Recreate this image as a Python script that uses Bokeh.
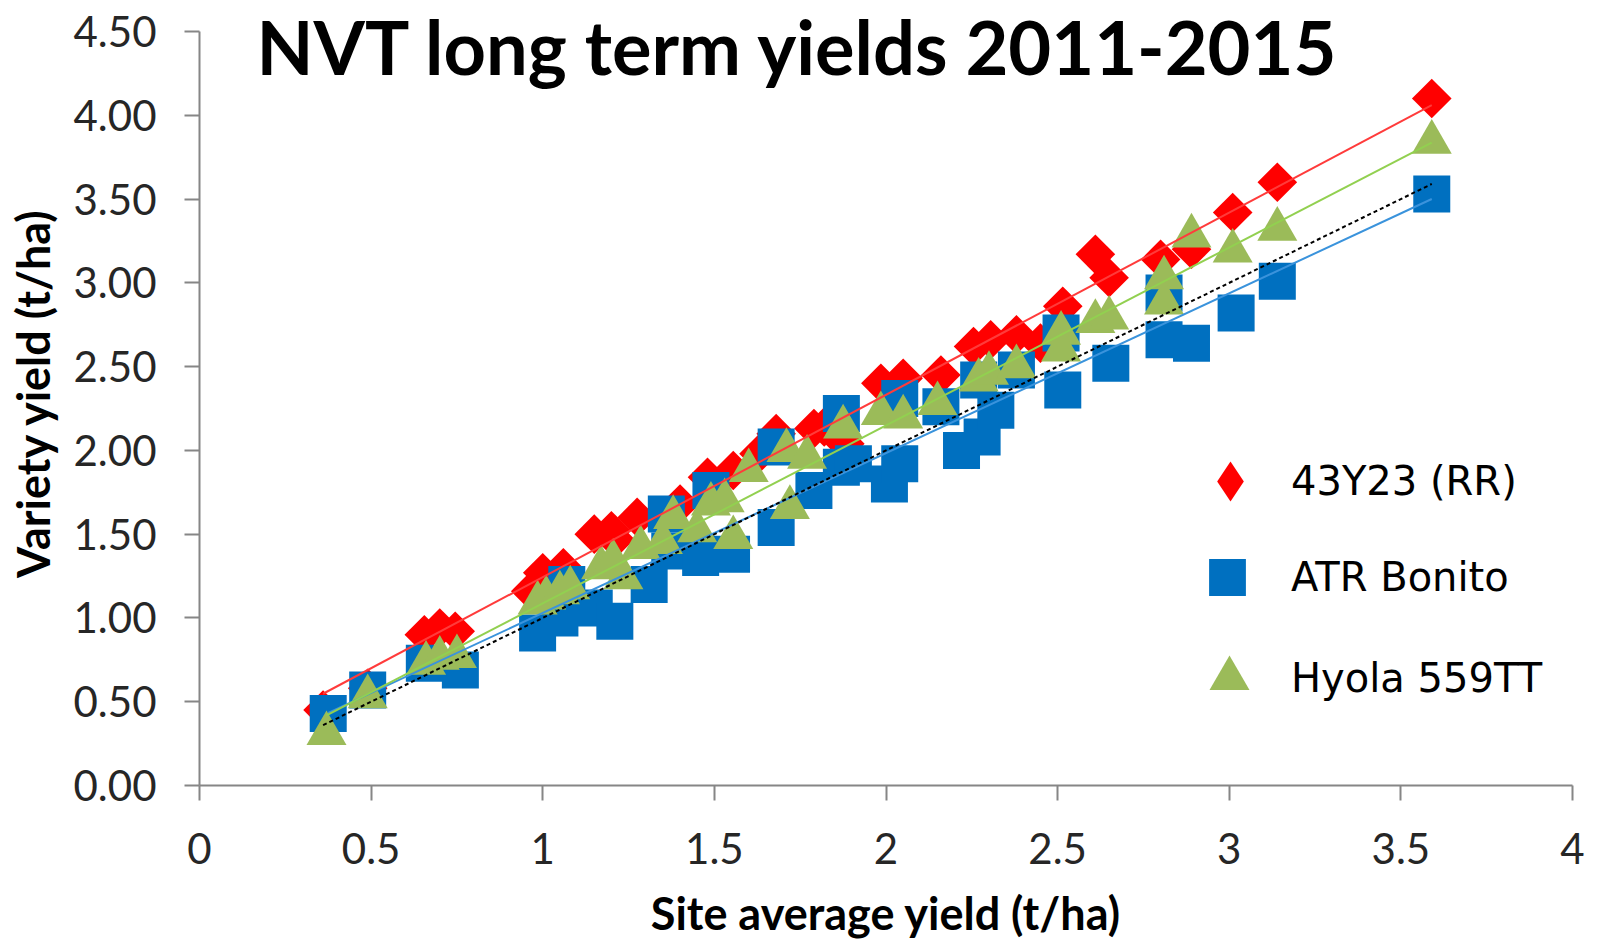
import numpy as np
from bokeh.plotting import figure
from bokeh.models import (Range1d, Label, Legend, LegendItem, FixedTicker,
                          NumeralTickFormatter)
from bokeh.embed import file_html
from bokeh.resources import INLINE

# ---------------- data ----------------
title_text = "NVT long term yields 2011-2015"
x_label = "Site average yield (t/ha)"
y_label = "Variety yield (t/ha)"
x_ticks = [0, 0.5, 1, 1.5, 2, 2.5, 3, 3.5, 4]
y_ticks = [0, 0.5, 1, 1.5, 2, 2.5, 3, 3.5, 4, 4.5]

series_names = ["43Y23 (RR)", "ATR Bonito", "Hyola 559TT"]

red_x = [0.36, 0.49, 0.655, 0.70, 0.745, 0.965, 1.00, 1.06, 1.15, 1.20, 1.21,
         1.275, 1.40, 1.48, 1.555, 1.63, 1.68, 1.79, 1.82, 1.88, 1.985, 2.05,
         2.16, 2.255, 2.305, 2.38, 2.45, 2.515, 2.61, 2.65, 2.80, 2.89, 3.01,
         3.14, 3.59]
red_y = [0.45, 0.58, 0.90, 0.94, 0.92, 1.16, 1.27, 1.30, 1.50, 1.52, 1.47,
         1.60, 1.68, 1.84, 1.88, 1.98, 2.10, 2.13, 2.14, 2.04, 2.40, 2.43,
         2.45, 2.62, 2.66, 2.69, 2.64, 2.86, 3.17, 3.03, 3.14, 3.20, 3.42,
         3.60, 4.10]

blue_x = [0.375, 0.49, 0.655, 0.76, 0.985, 1.05, 1.07, 1.15, 1.21, 1.31, 1.36,
          1.37, 1.46, 1.49, 1.55, 1.68, 1.68, 1.79, 1.87, 1.87, 1.905, 2.01,
          2.04, 2.04, 2.16, 2.22, 2.28, 2.27, 2.32, 2.38, 2.515, 2.51, 2.655,
          2.81, 2.81, 2.89, 3.02, 3.14, 3.59]
blue_y = [0.43, 0.57, 0.73, 0.69, 0.91, 1.00, 1.20, 1.06, 0.98, 1.20, 1.62,
          1.40, 1.36, 1.76, 1.38, 1.54, 2.02, 1.76, 1.90, 2.22, 1.92, 1.80,
          1.92, 2.31, 2.26, 2.00, 2.08, 2.42, 2.24, 2.48, 2.36, 2.70, 2.52,
          2.94, 2.66, 2.64, 2.82, 3.01, 3.53]

green_x = [0.37, 0.49, 0.66, 0.70, 0.75, 0.985, 1.01, 1.05, 1.08, 1.17, 1.205,
           1.235, 1.285, 1.35, 1.38, 1.45, 1.49, 1.53, 1.555, 1.60, 1.71, 1.72,
           1.77, 1.875, 1.985, 2.05, 2.15, 2.27, 2.30, 2.38, 2.51, 2.51, 2.61,
           2.65, 2.81, 2.81, 2.89, 3.01, 3.14, 3.59]
green_y = [0.31, 0.53, 0.73, 0.76, 0.77, 1.09, 1.12, 1.15, 1.18, 1.30, 1.34,
           1.24, 1.42, 1.45, 1.60, 1.52, 1.68, 1.70, 1.48, 1.88, 2.00, 1.66,
           1.96, 2.14, 2.22, 2.20, 2.28, 2.42, 2.46, 2.50, 2.70, 2.60, 2.77,
           2.79, 3.03, 2.88, 3.28, 3.19, 3.32, 3.84]

# ---------------- styles ----------------
RED, BLUE, GREEN = "#FF0000", "#0070C0", "#9BBB59"
RED_LINE, BLUE_LINE, GREEN_LINE = "#FF3B3B", "#3A93DC", "#92D050"
AXIS = "#868686"
FONT = "Lato"

Y_MAX = 4.5
PLOT_H = 754          # pixel height of the 0..4.5 axis span
TOP_PAD = 31          # room above the axis top, kept inside the frame for the title
y_end = Y_MAX * (PLOT_H + TOP_PAD) / PLOT_H

p = figure(frame_width=1373, frame_height=PLOT_H + TOP_PAD,
           min_border_left=199, min_border_right=25,
           min_border_top=0, min_border_bottom=155,
           x_range=Range1d(0, 4), y_range=Range1d(0, y_end),
           output_backend="svg", toolbar_location=None)
p.xgrid.visible = False
p.ygrid.visible = False
p.outline_line_color = None
p.background_fill_color = "white"
p.border_fill_color = "white"

for ax in (p.xaxis[0], p.yaxis[0]):
    ax.axis_line_color = AXIS
    ax.axis_line_width = 2
    ax.major_tick_line_color = AXIS
    ax.major_tick_line_width = 2
    ax.major_tick_in = 0
    ax.major_tick_out = 15
    ax.minor_tick_line_color = None
    ax.major_label_text_font = FONT
    ax.major_label_text_font_size = "42px"
    ax.major_label_text_color = "#262626"
    ax.axis_label_text_font = FONT
    ax.axis_label_text_font_style = "bold"
    ax.axis_label_text_font_size = "45px"
    ax.axis_label_text_color = "black"

p.xaxis.ticker = FixedTicker(ticks=x_ticks)
p.yaxis.ticker = FixedTicker(ticks=y_ticks)
p.yaxis.bounds = (0, Y_MAX)
p.xaxis.formatter = NumeralTickFormatter(format="0.[0]")
p.yaxis.formatter = NumeralTickFormatter(format="0.00")
p.xaxis.axis_label = x_label
p.yaxis.axis_label = y_label
p.xaxis.major_label_standoff = 32
p.yaxis.major_label_standoff = 28
p.xaxis.axis_label_standoff = 19
p.yaxis.axis_label_standoff = 11

# ---------------- markers ----------------
r_red = p.scatter(red_x, red_y, marker="square", angle=np.pi / 4, size=28,
                  fill_color=RED, line_color=None)
r_blue = p.scatter(blue_x, blue_y, marker="square", size=37,
                   fill_color=BLUE, line_color=None)
r_green = p.scatter(green_x, green_y, marker="triangle", size=40,
                    fill_color=GREEN, line_color=None)
# legend-only key for the red series (legend markers ignore angle);
# a single NaN placeholder so nothing is drawn in the plot itself
r_red_key = p.scatter(x=np.array([np.nan]), y=np.array([np.nan]),
                      marker="diamond", size=40,
                      fill_color=RED, line_color=None)

# ---------------- linear trend lines ----------------
def trend(xs, ys, color):
    xs = np.asarray(xs); ys = np.asarray(ys)
    m, c = np.polyfit(xs, ys, 1)
    xx = np.array([xs.min(), xs.max()])
    p.line(xx, m * xx + c, line_color=color, line_width=2)

trend(red_x, red_y, RED_LINE)
trend(blue_x, blue_y, BLUE_LINE)
trend(green_x, green_y, GREEN_LINE)

all_x = np.array(red_x + blue_x + green_x)
one = np.array([all_x.min(), all_x.max()])
p.line(one, one, line_color="black", line_width=2, line_dash="4 3")

# ---------------- title ----------------
p.add_layout(Label(x=1.745, y=4.41, text=title_text, text_align="center",
                   text_baseline="middle", text_font=FONT,
                   text_font_style="bold", text_font_size="74px",
                   text_color="black"))

# ---------------- legends (one per item, own glyph size) ----------------
def legend(name, rend, box, standoff, loc):
    lg = Legend(items=[LegendItem(label=name, renderers=[rend])],
                location=loc, padding=0, margin=0,
                glyph_width=box, glyph_height=box, label_height=box,
                label_standoff=standoff, label_text_font="DejaVu Sans",
                label_text_font_size="40px", label_text_color="black",
                border_line_alpha=0, background_fill_alpha=0)
    p.add_layout(lg)

legend(series_names[0], r_red_key, 100, 11, (981, 254))
legend(series_names[1], r_blue, 92, 18, (982, 162))
legend(series_names[2], r_green, 100, 12, (980, 57))

open("out.html", "w").write(file_html(p, INLINE))
